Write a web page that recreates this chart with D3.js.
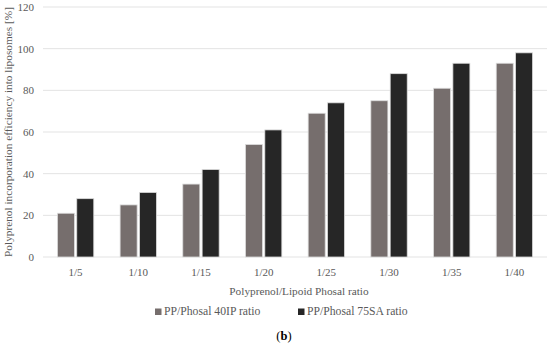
<!DOCTYPE html>
<html>
<head>
<meta charset="utf-8">
<script src="https://cdn.jsdelivr.net/npm/d3@7"></script>
<style>
  body { margin: 0; background: #fff; }
  svg text { font-family: "Liberation Serif", "DejaVu Serif", serif; fill: #595959; }
</style>
</head>
<body>
<div id="chart"></div>
<script>
const categories = ["1/5", "1/10", "1/15", "1/20", "1/25", "1/30", "1/35", "1/40"];
const seriesNames = ["PP/Phosal 40IP ratio", "PP/Phosal 75SA ratio"];
const phosal40 = [21, 25, 35, 54, 69, 75, 81, 93];
const phosal75 = [28, 31, 42, 61, 74, 88, 93, 98];
const yTicks = [0, 20, 40, 60, 80, 100, 120];
const colors = ["#766e6d", "#262626"];

const width = 550, height = 347;
const margin = {top: 7, right: 3, bottom: 90, left: 43};

const svg = d3.select("#chart").append("svg")
    .attr("width", width)
    .attr("height", height);

const x0 = d3.scaleBand().domain(categories)
    .range([margin.left, width - margin.right]).paddingInner(0.42).paddingOuter(0.23);
const x1 = d3.scaleBand().domain([0, 1]).range([0, x0.bandwidth()]).paddingInner(0.12);
const y = d3.scaleLinear().domain([0, 120]).range([height - margin.bottom, margin.top]);

// grid
svg.append("g")
    .selectAll("line")
    .data(yTicks)
    .enter().append("line")
    .attr("x1", margin.left)
    .attr("x2", width - margin.right)
    .attr("y1", d => y(d))
    .attr("y2", d => y(d))
    .attr("stroke", "#e3e3e3")
    .attr("stroke-width", 1);

// y tick labels
svg.append("g")
    .selectAll("text")
    .data(yTicks)
    .enter().append("text")
    .attr("x", 34)
    .attr("y", d => y(d) + 4)
    .attr("text-anchor", "end")
    .style("font-size", "11px")
    .text(d => d);

// bars
const rows = categories.map((c, i) => ({cat: c, vals: [phosal40[i], phosal75[i]]}));
const group = svg.selectAll(".grp")
    .data(rows)
    .enter().append("g")
    .attr("class", "grp")
    .attr("transform", d => `translate(${x0(d.cat)},0)`);

group.selectAll("rect")
    .data(d => d.vals.map((v, k) => ({k: k, v: v})))
    .enter().append("rect")
    .attr("x", d => x1(d.k))
    .attr("y", d => y(d.v))
    .attr("width", x1.bandwidth())
    .attr("height", d => y(0) - y(d.v))
    .attr("fill", d => colors[d.k])
    .attr("stroke", "#dcdcdc")
    .attr("stroke-width", 0.8);

// x tick labels
svg.append("g")
    .selectAll("text")
    .data(categories)
    .enter().append("text")
    .attr("x", d => x0(d) + x0.bandwidth() / 2)
    .attr("y", 276)
    .attr("text-anchor", "middle")
    .style("font-size", "11px")
    .text(d => d);

// axis titles
svg.append("text")
    .attr("x", 299)
    .attr("y", 295)
    .attr("text-anchor", "middle")
    .style("font-size", "11.3px")
    .text("Polyprenol/Lipoid Phosal ratio");

svg.append("text")
    .attr("transform", `translate(12,${(y(0) + y(120)) / 2}) rotate(-90)`)
    .attr("text-anchor", "middle")
    .style("font-size", "11.3px")
    .text("Polyprenol incorporation efficiency into liposomes [%]");

// legend
const legendX = [155, 298];
const legend = svg.selectAll(".leg")
    .data(seriesNames)
    .enter().append("g")
    .attr("class", "leg")
    .attr("transform", (d, i) => `translate(${legendX[i]},315)`);
legend.append("rect")
    .attr("x", 0).attr("y", -6.5)
    .attr("width", 6.5).attr("height", 6.5)
    .attr("fill", (d, i) => colors[i]);
legend.append("text")
    .attr("x", 9)
    .attr("y", 0)
    .style("font-size", "11.7px")
    .text(d => d);

svg.append("text")
    .attr("x", 284)
    .attr("y", 340)
    .attr("text-anchor", "middle")
    .style("font-size", "12.5px")
    .style("fill", "#000")
    .html("(<tspan font-weight='bold'>b</tspan>)");
</script>
</body>
</html>
